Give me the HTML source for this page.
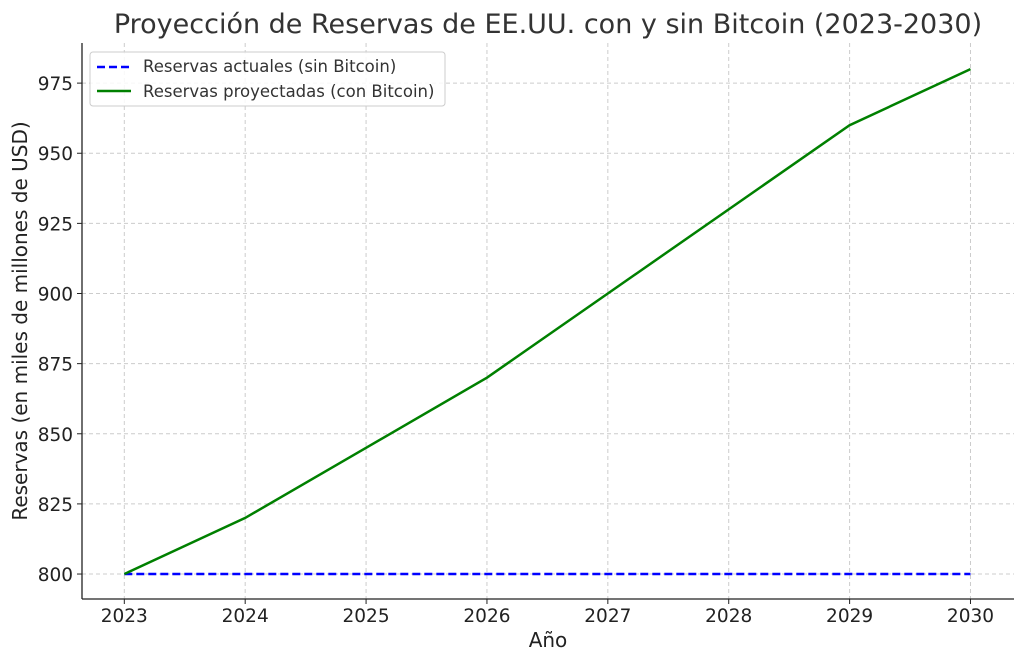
<!DOCTYPE html>
<html><head><meta charset="utf-8"><style>
body{margin:0;background:#fff}
svg{font-family:"DejaVu Sans","Liberation Sans",sans-serif}
</style></head><body>
<svg id="chart" width="1024" height="663">
<text x="548" y="33" font-size="27" text-anchor="middle" fill="#333">Proyección de Reservas de EE.UU. con y sin Bitcoin (2023-2030)</text>
<g id="grid"></g><g id="series"></g><g id="axes"></g>
<text x="548" y="647" font-size="20" text-anchor="middle" fill="#222">Año</text>
<text transform="translate(27,321) rotate(-90)" font-size="20" text-anchor="middle" fill="#222">Reservas (en miles de millones de USD)</text>
<g>
<rect x="90" y="52" width="355" height="54" rx="3" fill="#fff" fill-opacity="0.85" stroke="#ccc"/>
<line x1="97" y1="67" x2="131" y2="67" stroke="#0000ff" stroke-width="2.5" stroke-dasharray="8,4"/>
<text x="143" y="72" font-size="16.5" fill="#333">Reservas actuales (sin Bitcoin)</text>
<line x1="97" y1="91" x2="131" y2="91" stroke="#008000" stroke-width="2.5"/>
<text x="143" y="97" font-size="16.5" fill="#333">Reservas proyectadas (con Bitcoin)</text>
</g>
</svg>
<script>
const years=[2023,2024,2025,2026,2027,2028,2029,2030];
const actuales=[800,800,800,800,800,800,800,800];
const proyectadas=[800,820,845,870,900,930,960,980];
const yTicks=[800,825,850,875,900,925,950,975];
const NS="http://www.w3.org/2000/svg";
const L=82,R=1014,T=43,B=599;
const xMin=2022.65,xMax=2030.36,yMin=791.1,yMax=989.3;
const xs=v=>L+(v-xMin)/(xMax-xMin)*(R-L);
const ys=v=>B-(v-yMin)/(yMax-yMin)*(B-T);
function mk(tag,attrs,parent){const e=document.createElementNS(NS,tag);for(const k in attrs)e.setAttribute(k,attrs[k]);document.getElementById(parent).appendChild(e);return e;}
years.forEach(y=>{
 const g=mk('line',{x1:xs(y),x2:xs(y),y1:T,y2:B,stroke:'#ccc','stroke-dasharray':'4,3'},'grid');
 
 
 const t=mk('line',{x1:xs(y),x2:xs(y),y1:B,y2:B+5,stroke:'#222'},'axes');
 
 
 const l=mk('text',{x:xs(y),y:B+23,'font-size':18.5,'text-anchor':'middle',fill:'#222'},'axes');l.textContent=y;
 
 
});
yTicks.forEach(v=>{
 const g=mk('line',{x1:L,x2:R,y1:ys(v),y2:ys(v),stroke:'#ccc','stroke-dasharray':'4,3'},'grid');
 
 
 const t=mk('line',{x1:L-5,x2:L,y1:ys(v),y2:ys(v),stroke:'#222'},'axes');
 
 
 const l=mk('text',{x:L-9,y:ys(v)+7,'font-size':18.5,'text-anchor':'end',fill:'#222'},'axes');l.textContent=v;
 
 
});
const sl=mk('line',{x1:L,x2:L,y1:T,y2:B,stroke:'#222','stroke-width':1.3},'axes');


const sb=mk('line',{x1:L,x2:R,y1:B,y2:B,stroke:'#222','stroke-width':1.3},'axes');


const p1=mk('polyline',{points:years.map((y,i)=>xs(y)+','+ys(actuales[i])).join(' '),fill:'none',stroke:'#0000ff','stroke-width':2.5,'stroke-dasharray':'8,4'},'series');


const p2=mk('polyline',{points:years.map((y,i)=>xs(y)+','+ys(proyectadas[i])).join(' '),fill:'none',stroke:'#008000','stroke-width':2.5},'series');


</script>
</body></html>
